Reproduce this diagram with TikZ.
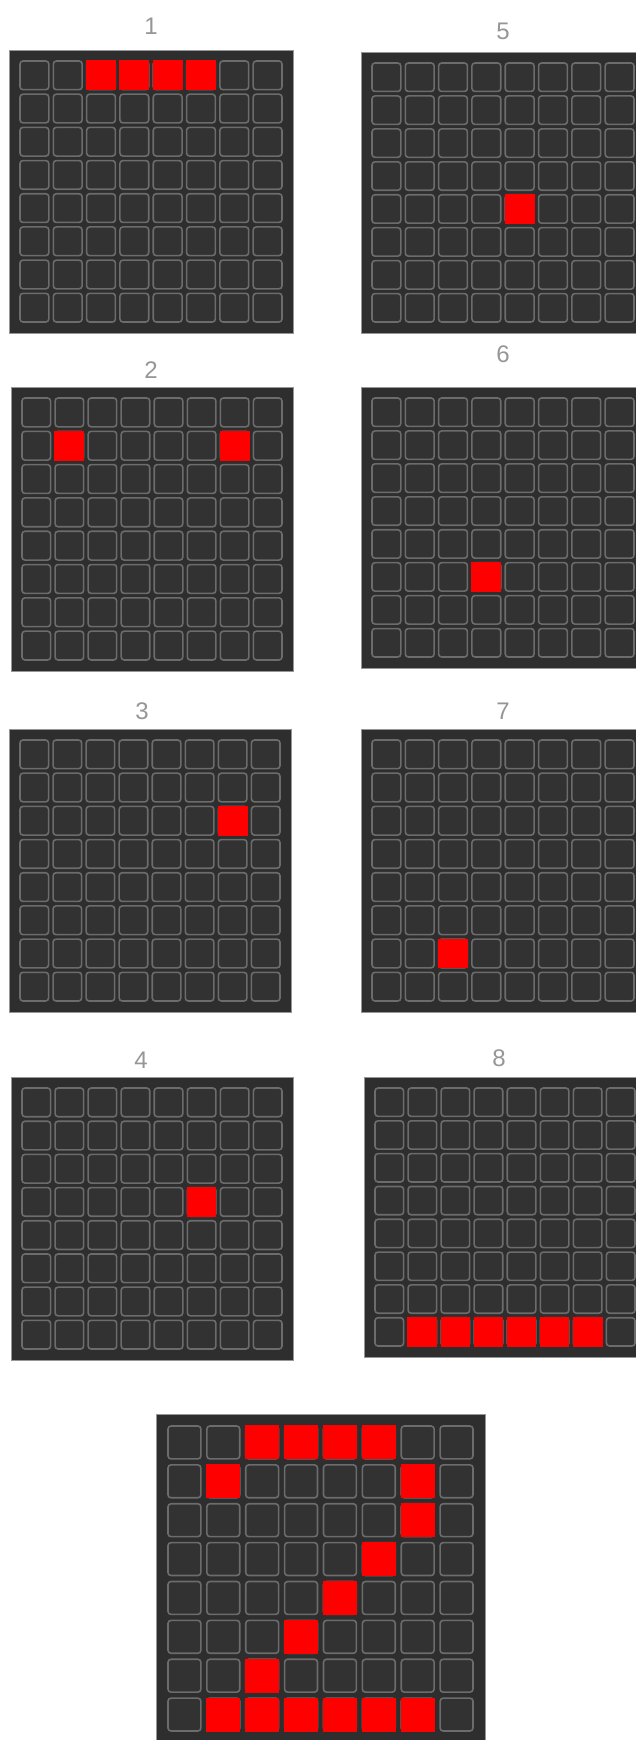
\documentclass[tikz,border=0pt]{standalone}
\usepackage{fontspec}
\setmainfont{Liberation Sans}
\definecolor{panelbg}{RGB}{46,46,46}
\definecolor{paneledge}{RGB}{150,150,150}
\definecolor{cellbg}{RGB}{50,50,50}
\definecolor{celledge}{RGB}{108,108,108}
\definecolor{ledred}{RGB}{255,0,0}
\definecolor{labelgray}{RGB}{150,150,150}
\tikzset{
  panelbox/.style={draw=paneledge, line width=0.8pt, fill=panelbg, inner sep=0pt, outer sep=0pt},
  cellbox/.style={draw=celledge, line width=1.6pt, fill=cellbg, rounded corners=3pt},
  redcell/.style={fill=ledred},
  numlabel/.style={text=labelgray, font=\fontsize{24}{24}\selectfont, inner sep=0pt}
}
% #1 name, #2 x, #3 y, #4 w, #5 h, #6 margin, #7 gap, #8 red cells row/col (1-based)
\newcommand{\ledpanel}[8]{%
  \node[panelbox, minimum width=#4pt, minimum height=#5pt, anchor=north west] (#1) at (#2,#3) {};
  \pgfmathsetmacro\lpcw{(#4-2*#6-7*#7)/8}%
  \pgfmathsetmacro\lpch{(#5-2*#6-7*#7)/8}%
  \foreach \lpr in {0,...,7}{%
    \foreach \lpc in {0,...,7}{%
      \pgfmathsetmacro\lpx{#2+#6+\lpc*(\lpcw+#7)}%
      \pgfmathsetmacro\lpy{#3+#6+\lpr*(\lpch+#7)}%
      \draw[cellbox] (\lpx,\lpy) rectangle ++(\lpcw,\lpch);
    }%
  }%
  \foreach \lpr/\lpc in {#8}{%
    \pgfmathsetmacro\lpx{#2+#6+(\lpc-1)*(\lpcw+#7)-0.6}%
    \pgfmathsetmacro\lpy{#3+#6+(\lpr-1)*(\lpch+#7)-0.6}%
    \fill[redcell] (\lpx,\lpy) rectangle ++(\lpcw+1.2,\lpch+1.2);
  }%
}
\begin{document}
\begin{tikzpicture}[x=1pt,y=-1pt]
\clip (0,0) rectangle (636,1740);
\fill[white] (0,0) rectangle (636,1740);

\ledpanel{p1}{9}{50}{284}{283}{11}{4.5}{1/3,1/4,1/5,1/6}
\node[numlabel] (l1) at (151,26) {1};

\ledpanel{p5}{361}{52}{284}{281}{11}{4.5}{5/5}
\node[numlabel] (l5) at (503,31) {5};

\ledpanel{p2}{11}{387}{282}{284}{11}{4.5}{2/2,2/7}
\node[numlabel] (l2) at (151,370) {2};

\ledpanel{p6}{361}{387}{284}{281}{11}{4.5}{6/4}
\node[numlabel] (l6) at (503,354) {6};

\ledpanel{p3}{9}{729}{282}{283}{11}{4.5}{3/7}
\node[numlabel] (l3) at (142,711) {3};

\ledpanel{p7}{361}{729}{284}{283}{11}{4.5}{7/3}
\node[numlabel] (l7) at (503,711) {7};

\ledpanel{p4}{11}{1077}{282}{283}{11}{4.5}{4/6}
\node[numlabel] (l4) at (141,1060) {4};

\ledpanel{p8}{364}{1077}{282}{280}{11}{4.5}{8/2,8/3,8/4,8/5,8/6,8/7}
\node[numlabel] (l8) at (499,1058) {8};

\ledpanel{pf}{156}{1414}{329}{329}{12}{6}{1/3,1/4,1/5,1/6,2/2,2/7,3/7,4/6,5/5,6/4,7/3,8/2,8/3,8/4,8/5,8/6,8/7}
\end{tikzpicture}
\end{document}
